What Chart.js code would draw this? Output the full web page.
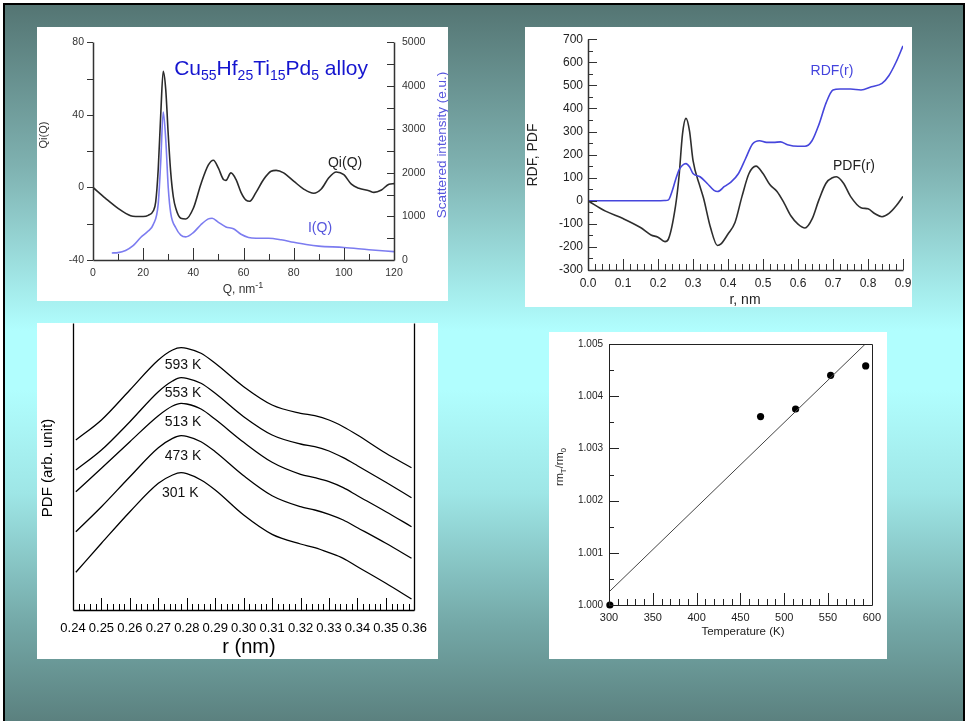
<!DOCTYPE html>
<html><head><meta charset="utf-8">
<script src="https://cdn.jsdelivr.net/npm/chart.js@4.4.1/dist/chart.umd.min.js"></script>
<style>
html,body{margin:0;padding:0;background:#fff;width:965px;height:721px;overflow:hidden;}
#slide{position:absolute;left:3px;top:3px;width:958px;height:740px;border:2px solid #000;
 background:linear-gradient(to bottom,#547573 0%,#7fb2b1 22%,#b1fefe 44%,#b1fefe 52%,#9ee6e6 66%,#73a7a6 84%,#557775 100%);}
.panel{position:absolute;background:#fff;overflow:hidden;}
canvas{position:absolute;left:0;top:0;}
</style></head>
<body>
<div id="slide"></div>
<div class="panel" style="left:37px;top:27px;width:411px;height:274px;"><canvas id="c1" width="411" height="274"></canvas></div>
<div class="panel" style="left:525px;top:27px;width:387px;height:280px;"><canvas id="c2" width="400" height="280"></canvas></div>
<div class="panel" style="left:37px;top:323px;width:401px;height:336px;"><canvas id="c3" width="401" height="336"></canvas></div>
<div class="panel" style="left:549px;top:332px;width:338px;height:327px;"><canvas id="c4" width="338" height="327"></canvas></div>
<script>
// ---------- Panel 1: Qi(Q) and I(Q) ----------
const qiQ   = [0,5,10,15,17,20,22,24,25,26,27,28,29,30,31,32,33,35,37,40,43,46,48,50,52,53,55,57,59,61,62.5,65,68,71,73,76,80,84,88,91,94,97,100,103,106,110,112,115,118,120];
const qiVal = [0,-6,-11.5,-15.6,-16,-16,-15.4,-13,-8,10,40,64,54,29,8,-5,-11.5,-17,-17.4,-11.5,1.8,12.4,15,10.6,4.4,3.9,8,4.4,-2.7,-7,-7.6,-2.7,4.4,8.9,9.4,8,3.5,-0.9,-3.2,-0.9,5.3,8.5,7,1.8,-0.5,-1.8,-2.7,-1.4,1.8,2.1];
const iqQ   = [7.5,10,13,16,19,22,24,26,27,28,29,30,31,33,35,37,40,43,46,47.5,50,53,56,59,62,65,70,75,80,85,90,100,110,120];
const iqVal = [162,170,220,330,517,665,812,1290,2250,3400,2770,1660,1070,740,570,530,630,810,945,960,865,760,716,590,517,500,500,465,406,355,318,288,236,192];
const p1QTicks  = [0,20,40,60,80,100,120];
const p1QiTicks = [-40,0,40,80];
const p1ITicks  = [0,1000,2000,3000,4000,5000];

// ---------- Panel 2: RDF(r) and PDF(r) ----------
const pdfR   = [0,0.05,0.1,0.15,0.18,0.2,0.22,0.23,0.25,0.26,0.27,0.28,0.29,0.3,0.32,0.33,0.35,0.37,0.38,0.4,0.42,0.44,0.46,0.48,0.5,0.52,0.54,0.56,0.58,0.6,0.62,0.64,0.66,0.68,0.7,0.71,0.73,0.75,0.78,0.8,0.82,0.84,0.86,0.88,0.9];
const pdfVal = [0,-45,-77,-116,-148,-158,-177,-165,-23,104,289,357,303,175,62,12,-116,-194,-187,-144,-94,19,118,150,118,69,40,-9,-66,-101,-118,-80,5,76,101,104,76,19,-30,-35,-56,-69,-55,-23,19];
const rdfR   = [0,0.1,0.2,0.22,0.23,0.24,0.25,0.26,0.27,0.28,0.29,0.3,0.32,0.34,0.36,0.37,0.39,0.41,0.43,0.45,0.47,0.49,0.51,0.53,0.55,0.57,0.6,0.62,0.64,0.66,0.68,0.7,0.72,0.75,0.78,0.81,0.84,0.86,0.88,0.9];
const rdfVal = [0,0,0,1,4,40,90,133,154,161,147,118,104,76,45,40,62,83,118,182,246,260,253,253,255,243,236,236,260,331,423,480,484,484,480,494,509,543,600,671];
const p2RTicks = [0,0.1,0.2,0.3,0.4,0.5,0.6,0.7,0.8,0.9];
const p2YTicks = [-300,-200,-100,0,100,200,300,400,500,600,700];

// ---------- Panel 3: PDF vs temperature ----------
const p3R    = [0.241,0.25,0.26,0.27,0.275,0.278,0.28,0.285,0.29,0.30,0.31,0.32,0.325,0.33,0.335,0.34,0.35,0.359];
const pdf593 = [17.0,19.0,22.0,25.0,26.0,26.23,26.17,25.67,24.67,22.33,20.5,19.67,19.43,19.0,18.33,17.5,15.67,14.23];
const pdf553 = [14.0,16.0,18.83,21.83,22.9,23.23,23.17,22.67,21.67,19.33,17.5,16.6,16.33,15.9,15.23,14.43,12.77,11.23];
const pdf513 = [11.83,14.17,16.83,19.43,20.4,20.67,20.6,20.1,19.07,16.77,14.77,13.57,13.23,12.83,12.23,11.43,9.83,8.33];
const pdf473 = [7.83,10.33,13.33,16.23,17.17,17.43,17.37,16.83,15.83,13.43,11.43,10.33,10.0,9.57,9.0,8.23,6.67,5.17];
const pdf301 = [3.77,6.67,9.83,12.67,13.5,13.73,13.63,13.0,12.0,9.5,7.57,6.6,6.23,5.73,5.17,4.33,2.67,1.1];
const p3Labels = ['593 K','553 K','513 K','473 K','301 K'];
const p3LabelPos = [[0.2787,24.5],[0.2787,21.7],[0.2787,18.8],[0.2787,15.4],[0.2777,11.7]];
const p3RTicks = [0.24,0.25,0.26,0.27,0.28,0.29,0.30,0.31,0.32,0.33,0.34,0.35,0.36];

// ---------- Panel 4: rm_T / rm_0 vs temperature ----------
const tempK   = [301,473,513,553,593];
const ratio   = [1.0000,1.00361,1.003755,1.0044,1.00458];
const fitT    = [300,600];
const fitVal  = [1.00025,1.00512];
const p4TTicks = [300,350,400,450,500,550,600];
const p4YTicks = [1.000,1.001,1.002,1.003,1.004,1.005];

// ---------- helpers ----------
const pts = (xs, ys) => xs.map((x, i) => ({x, y: ys[i]}));
const setTicks = arr => s => { s.ticks = arr.map(v => ({value: v})); };

function drawRich(ctx, it, x, y) {
  const fam = it.family || 'Liberation Sans';
  const size = it.size || 12;
  const small = it.small || Math.round(size * 0.7);
  const parts = it.parts.map(p => typeof p === 'string' ? {t: p} : p);
  let total = 0;
  parts.forEach(p => { ctx.font = (it.weight || '') + ' ' + ((p.sub || p.sup) ? small : size) + 'px "' + fam + '"'; p.w = ctx.measureText(p.t).width; total += p.w; });
  ctx.save();
  ctx.translate(x, y);
  if (it.rot) ctx.rotate(it.rot);
  ctx.fillStyle = it.color || '#000';
  ctx.textBaseline = 'middle';
  ctx.textAlign = 'left';
  let cx = it.align === 'left' ? 0 : it.align === 'right' ? -total : -total / 2;
  parts.forEach(p => {
    ctx.font = (it.weight || '') + ' ' + ((p.sub || p.sup) ? small : size) + 'px "' + fam + '"';
    const dy = p.sub ? size * 0.32 : p.sup ? -size * 0.38 : 0;
    ctx.fillText(p.t, cx, dy);
    cx += p.w;
  });
  ctx.restore();
}

const decor = {
  id: 'decor',
  afterDatasetsDraw(chart, args, o) {
    const ctx = chart.ctx, ca = chart.chartArea;
    ctx.save();
    if (o.frame) {
      ctx.strokeStyle = o.frame.color; ctx.lineWidth = o.frame.width;
      ctx.beginPath();
      const L = Math.round(ca.left) + 0.5, R = Math.round(ca.right) + 0.5, T = Math.round(ca.top) + 0.5, B = Math.round(ca.bottom) + 0.5;
      o.frame.sides.forEach(s => {
        if (s === 'left') { ctx.moveTo(L, T); ctx.lineTo(L, B); }
        if (s === 'right') { ctx.moveTo(R, T); ctx.lineTo(R, B); }
        if (s === 'top') { ctx.moveTo(L, T); ctx.lineTo(R, T); }
        if (s === 'bottom') { ctx.moveTo(L, B); ctx.lineTo(R, B); }
      });
      ctx.stroke();
    }
    (o.ticks || []).forEach(t => {
      const sc = chart.scales[t.scale];
      ctx.strokeStyle = t.color || '#333'; ctx.lineWidth = t.width || 1;
      ctx.beginPath();
      for (let i = 0; ; i++) {
        const v = Math.round((t.from + i * t.step) * 1e7) / 1e7;
        if (v > t.to + 1e-9) break;
        const p = Math.round(sc.getPixelForValue(v)) + 0.5;
        if (sc.isHorizontal()) {
          const y0 = ca.bottom; ctx.moveTo(p, y0); ctx.lineTo(p, y0 - t.dir * t.len);
        } else {
          const x0 = t.right ? ca.right : ca.left; const s = t.right ? -1 : 1;
          ctx.moveTo(x0, p); ctx.lineTo(x0 + s * t.dir * t.len, p);
        }
      }
      ctx.stroke();
    });
    ctx.restore();
    (o.texts || []).forEach(it => {
      let x = it.x, y = it.y;
      if (it.xs) x = chart.scales[it.xs].getPixelForValue(it.xv);
      if (it.ys) y = chart.scales[it.ys].getPixelForValue(it.yv);
      drawRich(ctx, it, x, y);
    });
  }
};
Chart.register(decor);
Chart.defaults.animation = false;
Chart.defaults.font.family = '"Liberation Sans", Arial, sans-serif';

const noGrid = {display: false, drawTicks: false};
const noBorder = {display: false};
const plain = v => String(v);

// ---------- Chart 1 ----------
new Chart(document.getElementById('c1'), {
  type: 'line',
  data: {datasets: [
    {data: pts(qiQ, qiVal), yAxisID: 'y', borderColor: '#2a2a2a', borderWidth: 1.6, pointRadius: 0, tension: 0.4, cubicInterpolationMode: 'monotone'},
    {data: pts(iqQ, iqVal), yAxisID: 'y2', borderColor: '#7c7cf0', borderWidth: 1.6, pointRadius: 0, tension: 0.4, cubicInterpolationMode: 'monotone'}
  ]},
  options: {
    responsive: false, events: [],
    layout: {padding: {top: 7, left: 0, right: 0, bottom: 0}},
    plugins: {legend: {display: false}, tooltip: {enabled: false},
      decor: {
        frame: {sides: ['left', 'bottom', 'right'], color: '#333', width: 1.5},
        ticks: [
          {scale: 'x', from: 0, to: 120, step: 10, len: 6, dir: 1},
          {scale: 'x', from: 0, to: 120, step: 20, len: 12, dir: 1},
          {scale: 'y', from: -40, to: 80, step: 20, len: 6, dir: -1},
          {scale: 'y2', from: 0, to: 5000, step: 500, len: 7, dir: 1, right: true}
        ],
        texts: [
          {parts: ['Cu', {t: '55', sub: 1}, 'Hf', {t: '25', sub: 1}, 'Ti', {t: '15', sub: 1}, 'Pd', {t: '5', sub: 1}, ' alloy'], xs: 'x', xv: 71, ys: 'y', yv: 65, size: 21, small: 14, color: '#1515cf'},
          {parts: ['Qi(Q)'], xs: 'x', xv: 100.5, ys: 'y', yv: 13.6, size: 14, color: '#222'},
          {parts: ['I(Q)'], xs: 'x', xv: 90.5, ys: 'y2', yv: 730, size: 14, color: '#5555dd'},
          {parts: ['Qi(Q)'], x: 7, y: 108, rot: -Math.PI / 2, size: 11, color: '#333'},
          {parts: ['Q, nm', {t: '-1', sup: 1}], x: 206, y: 263, size: 12, small: 9, color: '#333'},
          {parts: ['Scattered intensity (e.u.)'], x: 405, y: 118, rot: -Math.PI / 2, size: 13.5, color: '#5555dd'}
        ]
      }
    },
    scales: {
      x: {type: 'linear', min: 0, max: 120, grid: noGrid, border: noBorder,
          afterBuildTicks: setTicks(p1QTicks), afterFit: s => { s.height = 41; },
          ticks: {padding: 7, color: '#333', font: {size: 10.5}, maxRotation: 0, callback: plain}},
      y: {type: 'linear', position: 'left', min: -40, max: 80, grid: noGrid, border: noBorder,
          afterBuildTicks: setTicks(p1QiTicks), afterFit: s => { s.width = 56; },
          ticks: {padding: 9, color: '#333', font: {size: 10.5}, callback: plain}},
      y2: {type: 'linear', position: 'right', min: 0, max: 5000, grid: noGrid, border: noBorder,
          afterBuildTicks: setTicks(p1ITicks), afterFit: s => { s.width = 54; },
          ticks: {padding: 8, color: '#333', font: {size: 10.5}, callback: plain}}
    }
  }
});

// ---------- Chart 2 ----------
new Chart(document.getElementById('c2'), {
  type: 'line',
  data: {datasets: [
    {data: pts(rdfR, rdfVal), borderColor: '#4646dc', borderWidth: 1.6, pointRadius: 0, tension: 0.4, cubicInterpolationMode: 'monotone'},
    {data: pts(pdfR, pdfVal), borderColor: '#2e2e2e', borderWidth: 1.6, pointRadius: 0, tension: 0.4, cubicInterpolationMode: 'monotone'}
  ]},
  options: {
    responsive: false, events: [],
    layout: {padding: {top: 8, left: 0, right: 22, bottom: 0}},
    plugins: {legend: {display: false}, tooltip: {enabled: false},
      decor: {
        frame: {sides: ['left', 'bottom'], color: '#333', width: 1.5},
        ticks: [
          {scale: 'x', from: 0, to: 0.9, step: 0.02, len: 6, dir: 1},
          {scale: 'x', from: 0, to: 0.9, step: 0.1, len: 11, dir: 1},
          {scale: 'y', from: -300, to: 700, step: 50, len: 5, dir: 1},
          {scale: 'y', from: -300, to: 700, step: 100, len: 9, dir: 1}
        ],
        texts: [
          {parts: ['RDF(r)'], xs: 'x', xv: 0.697, ys: 'y', yv: 560, size: 14, color: '#4444dd'},
          {parts: ['PDF(r)'], xs: 'x', xv: 0.76, ys: 'y', yv: 151, size: 14, color: '#222'},
          {parts: ['RDF, PDF'], x: 8, y: 128, rot: -Math.PI / 2, size: 14, color: '#222'},
          {parts: ['r, nm'], x: 220, y: 273, size: 14, color: '#222'}
        ]
      }
    },
    scales: {
      x: {type: 'linear', min: 0, max: 0.9, grid: noGrid, border: noBorder,
          afterBuildTicks: setTicks(p2RTicks), afterFit: s => { s.height = 37; },
          ticks: {padding: 6, color: '#222', font: {size: 12}, maxRotation: 0, callback: v => v.toFixed(1)}},
      y: {type: 'linear', min: -300, max: 700, grid: noGrid, border: noBorder,
          afterBuildTicks: setTicks(p2YTicks), afterFit: s => { s.width = 63; },
          ticks: {padding: 5, color: '#222', font: {size: 12}, callback: plain}}
    }
  }
});

// ---------- Chart 3 ----------
const p3Sets = [pdf593, pdf553, pdf513, pdf473, pdf301];
new Chart(document.getElementById('c3'), {
  type: 'line',
  data: {datasets: p3Sets.map(v => ({data: pts(p3R, v), borderColor: '#000', borderWidth: 1.3, pointRadius: 0, tension: 0.4, cubicInterpolationMode: 'monotone'}))},
  options: {
    responsive: false, events: [],
    layout: {padding: {top: 0, left: 0, right: 15, bottom: 0}},
    plugins: {legend: {display: false}, tooltip: {enabled: false},
      decor: {
        frame: {sides: ['left', 'bottom', 'right'], color: '#000', width: 1.3},
        ticks: [
          {scale: 'x', from: 0.24, to: 0.36, step: 0.002, len: 6, dir: 1, color: '#000'},
          {scale: 'x', from: 0.24, to: 0.36, step: 0.01, len: 12, dir: 1, color: '#000'}
        ],
        texts: p3Labels.map((t, i) => ({parts: [t], xs: 'x', xv: p3LabelPos[i][0], ys: 'y', yv: p3LabelPos[i][1], size: 14, color: '#111'})).concat([
          {parts: ['PDF (arb. unit)'], x: 11, y: 145, rot: -Math.PI / 2, size: 15, color: '#000'},
          {parts: ['r (nm)'], x: 212, y: 324, size: 20, color: '#000'}
        ])
      }
    },
    scales: {
      x: {type: 'linear', min: 0.24, max: 0.36, grid: noGrid, border: noBorder,
          afterBuildTicks: setTicks(p3RTicks), afterFit: s => { s.height = 49; },
          ticks: {padding: 11, color: '#000', font: {size: 13}, maxRotation: 0, autoSkip: false, callback: v => v.toFixed(2)}},
      y: {type: 'linear', min: 0, max: 28.7, grid: noGrid, border: noBorder,
          afterFit: s => { s.width = 36; }, ticks: {display: false}}
    }
  }
});

// ---------- Chart 4 ----------
new Chart(document.getElementById('c4'), {
  type: 'line',
  data: {datasets: [
    {data: pts(fitT, fitVal), borderColor: '#444', borderWidth: 1, pointRadius: 0},
    {data: pts(tempK, ratio), showLine: false, pointRadius: 3.6, pointBackgroundColor: '#000', pointBorderColor: '#000', pointBorderWidth: 0, clip: false}
  ]},
  options: {
    responsive: false, events: [],
    layout: {padding: {top: 5, left: 0, right: 9, bottom: 0}},
    plugins: {legend: {display: false}, tooltip: {enabled: false},
      decor: {
        frame: {sides: ['left', 'bottom', 'right', 'top'], color: '#222', width: 1},
        ticks: [
          {scale: 'x', from: 300, to: 600, step: 10, len: 6, dir: 1, color: '#222'},
          {scale: 'x', from: 300, to: 600, step: 50, len: 12, dir: 1, color: '#222'},
          {scale: 'y', from: 1.0, to: 1.005, step: 0.0005, len: 5, dir: 1, color: '#222'},
          {scale: 'y', from: 1.0, to: 1.005, step: 0.001, len: 10, dir: 1, color: '#222'}
        ],
        texts: [
          {parts: ['rm', {t: 'T', sub: 1}, '/rm', {t: '0', sub: 1}], x: 11, y: 135, rot: -Math.PI / 2, size: 11, small: 8, color: '#222'},
          {parts: ['Temperature (K)'], x: 194, y: 300, size: 11.5, color: '#222'}
        ]
      }
    },
    scales: {
      x: {type: 'linear', min: 300, max: 600, grid: noGrid, border: noBorder,
          afterBuildTicks: setTicks(p4TTicks), afterFit: s => { s.height = 54; },
          ticks: {padding: 6, color: '#222', font: {size: 11}, maxRotation: 0, callback: plain}},
      y: {type: 'linear', min: 1.0, max: 1.005, grid: noGrid, border: noBorder,
          afterBuildTicks: setTicks(p4YTicks), afterFit: s => { s.width = 60; },
          ticks: {padding: 6, color: '#222', font: {size: 10}, callback: v => v.toFixed(3)}}
    }
  }
});
</script>
</body></html>
